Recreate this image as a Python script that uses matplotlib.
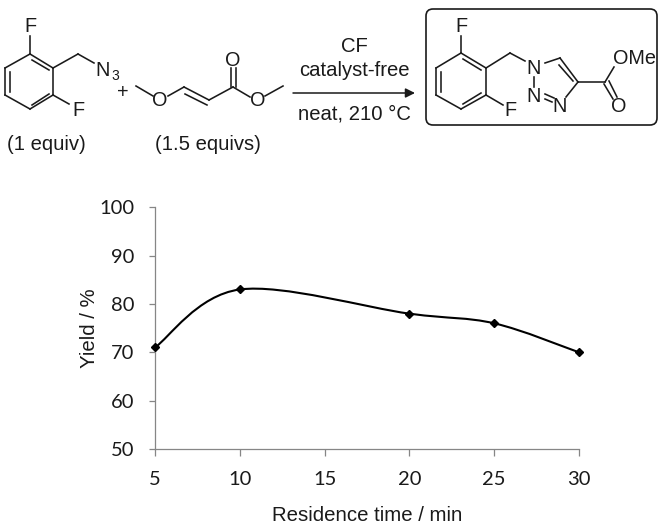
import matplotlib

matplotlib.use("Agg")
import matplotlib.pyplot as plt
import numpy as np
from matplotlib.patches import FancyBboxPatch, PathPatch
from matplotlib.path import Path

WIDTH, HEIGHT = 664, 528
AXIS_GREY = "#868686"
SANS = "Liberation Sans"
INK = "#1a1a1a"

residence_time = [5, 10, 20, 25, 30]
yield_pct = [71, 83, 78, 76, 70]
x_ticks = [5, 10, 15, 20, 25, 30]
y_ticks = [50, 60, 70, 80, 90, 100]

# scheme drawing, in image pixels
reactant_bonds = [
    ((5, 68), (30, 54)), ((30, 54), (53, 68)), ((53, 68), (53, 95)),
    ((53, 95), (30, 109)), ((30, 109), (5, 95)), ((5, 95), (5, 68)),
    ((10, 72), (10, 92)), ((32, 60), (49, 70)), ((32, 105), (49, 94)),
    ((30, 54), (30, 36)), ((53, 95), (69, 104)),
    ((53, 68), (78, 54)), ((78, 54), (94, 63)),
    ((136, 86), (153, 96)), ((168, 96), (184, 87)),
    ((184, 87), (209, 100)), ((185, 94), (207, 105)),
    ((209, 100), (233, 87)), ((231, 87), (231, 68)), ((236, 87), (236, 68)),
    ((233, 87), (250, 97)), ((265, 96), (283, 86)),
]
product_bonds = [
    ((436, 68), (461, 53)), ((461, 53), (486, 68)), ((486, 68), (486, 95)),
    ((486, 95), (461, 109)), ((461, 109), (436, 95)), ((436, 95), (436, 68)),
    ((441, 72), (441, 92)), ((463, 59), (481, 70)), ((463, 104), (481, 93)),
    ((461, 53), (461, 36)), ((486, 95), (503, 105)),
    ((486, 68), (510, 53)), ((510, 53), (525, 61)),
    ((545, 63), (560, 58)), ((560, 58), (578, 82)), ((559, 65), (573, 81)),
    ((578, 82), (566, 97)), ((534, 77), (534, 87)),
    ((545, 94), (554, 98)), ((545, 99), (552, 102)),
    ((578, 82), (605, 82)), ((605, 82), (614, 67)),
    ((604, 84), (613, 99)), ((609, 81), (617, 97)),
]
atom_labels = [
    ("F", 30, 27), ("F", 78, 111), ("N", 103, 70), ("O", 160, 100),
    ("O", 233, 60), ("O", 258, 100), ("+", 123, 93),
    ("F", 461, 26), ("F", 510, 110), ("N", 534, 68), ("N", 534, 97),
    ("N", 560, 106), ("OMe", 634, 59), ("O", 619, 106),
]
scheme_labels = [
    ("(1 equiv)", 46, 145), ("(1.5 equivs)", 208, 144),
    ("CF", 354, 47), ("catalyst-free", 354, 71), ("neat, 210 °C", 354, 114),
]


def smooth_path(xs, ys):
    # spreadsheet style smoothed line, cubic pieces through every point
    pts = np.column_stack([xs, ys]).astype(float)
    before = np.vstack([pts[0], pts[:-1]])
    after = np.vstack([pts[1:], pts[-1]])
    tangents = (after - before) / 6
    verts = [pts[0]]
    codes = [Path.MOVETO]
    for i in range(len(pts) - 1):
        verts += [pts[i] + tangents[i], pts[i + 1] - tangents[i + 1], pts[i + 1]]
        codes += [Path.CURVE4] * 3
    return Path(verts, codes)


def draw_scheme(fig):
    ax = fig.add_axes([0, 0, 1, 1])
    ax.set_xlim(0, WIDTH)
    ax.set_ylim(HEIGHT, 0)
    ax.axis("off")
    for start, end in reactant_bonds + product_bonds:
        ax.plot([start[0], end[0]], [start[1], end[1]], color=INK, lw=1.15)
    for text, x, y in atom_labels:
        ax.text(x, y, text, ha="center", va="center", fontsize=14.3, family=SANS, color=INK)
    for text, x, y in scheme_labels:
        ax.text(x, y, text, ha="center", va="center", fontsize=14.6, family=SANS, color=INK)
    ax.text(115, 76, "3", ha="center", va="center", fontsize=10, family=SANS, color=INK)
    ax.annotate("", xy=(415, 93), xytext=(293, 93),
                arrowprops=dict(arrowstyle="-|>", color=INK, lw=1.1,
                                mutation_scale=14, shrinkA=0, shrinkB=0))
    ax.add_patch(FancyBboxPatch((431, 14), 221, 106, boxstyle="round,pad=5,rounding_size=7",
                                fill=False, edgecolor=INK, lw=1.2))


def draw_chart(fig):
    left, right, top, bottom = 155, 579, 207.3, 449
    ax = fig.add_axes([left / WIDTH, 1 - bottom / HEIGHT,
                       (right - left) / WIDTH, (bottom - top) / HEIGHT])
    ax.patch.set_alpha(0)
    ax.add_patch(PathPatch(smooth_path(residence_time, yield_pct), fill=False,
                           edgecolor="black", lw=1.5, clip_on=False))
    ax.plot(residence_time, yield_pct, linestyle="none", marker="D", color="black",
            markersize=4.4, clip_on=False, zorder=5)
    ax.set_xlim(5, 30)
    ax.set_ylim(50, 100)
    ax.set_xticks(x_ticks)
    ax.set_yticks(y_ticks)
    for side in ("top", "right"):
        ax.spines[side].set_visible(False)
    for side in ("left", "bottom"):
        ax.spines[side].set_color(AXIS_GREY)
        ax.spines[side].set_linewidth(0.9)
    ax.tick_params(axis="y", length=4.5, width=0.9, color=AXIS_GREY, pad=10.5)
    ax.tick_params(axis="x", length=5, width=0.9, color=AXIS_GREY, pad=10.5)
    for label in ax.get_xticklabels() + ax.get_yticklabels():
        label.set_family("Lato")
        label.set_fontsize(14.5)
        label.set_color(INK)
    ax.set_xlabel("Residence time / min", family=SANS, fontsize=14.7, color=INK, labelpad=13)
    ax.set_ylabel("Yield / %", family=SANS, fontsize=14.7, color=INK, labelpad=0)


def main():
    fig = plt.figure(figsize=(WIDTH / 100, HEIGHT / 100), dpi=100)
    draw_scheme(fig)
    draw_chart(fig)
    fig.savefig("out.png", dpi=100)
    plt.close(fig)


if __name__ == "__main__":
    main()
